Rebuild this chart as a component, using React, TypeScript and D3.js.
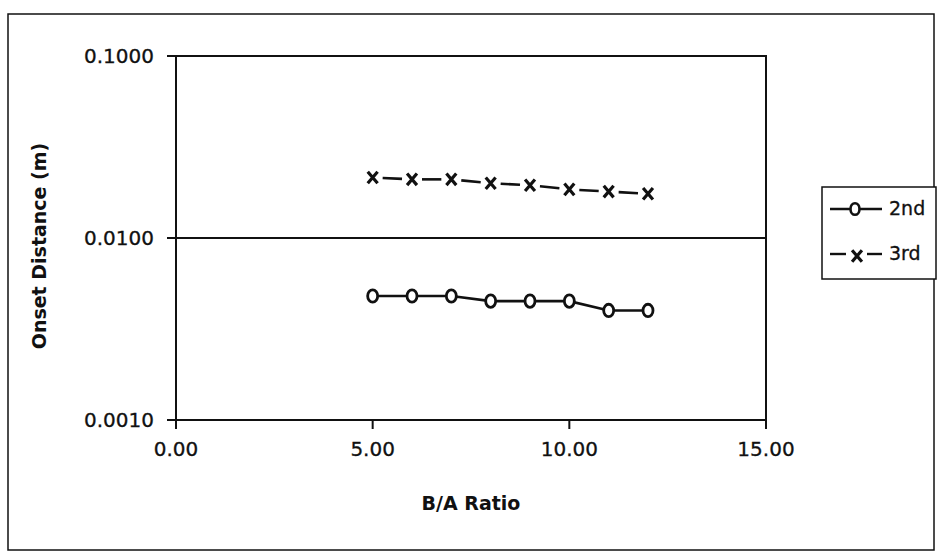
import * as React from "react";
import * as d3 from "d3";

// B/A ratio on x, onset distance (m) on a log y axis
const ratios = [5, 6, 7, 8, 9, 10, 11, 12];
const second = [0.0048, 0.0048, 0.0048, 0.0045, 0.0045, 0.0045, 0.004, 0.004];
const third = [0.0215, 0.021, 0.021, 0.02, 0.0195, 0.0185, 0.018, 0.0175];
const xTicks = [0, 5, 10, 15];
const yTicks = [0.001, 0.01, 0.1];
const seriesNames = ["2nd", "3rd"];

const W = 940;
const H = 554;
const FONT = "'DejaVu Sans', Arial, sans-serif";

export default function App() {
  const svgRef = React.useRef<SVGSVGElement>(null);

  React.useEffect(() => {
    const svg = d3.select(svgRef.current);
    svg.selectAll("*").remove();

    const left = 176, right = 766, top = 56, bottom = 420;
    const x = d3.scaleLinear().domain([0, 15]).range([left, right]);
    const y = d3.scaleLog().domain([0.001, 0.1]).range([bottom, top]);

    // outer frame
    svg.append("rect")
      .attr("x", 8).attr("y", 14).attr("width", 926).attr("height", 536)
      .attr("fill", "white").attr("stroke", "#111").attr("stroke-width", 1.5);

    // plot area border
    svg.append("rect")
      .attr("x", left).attr("y", top)
      .attr("width", right - left).attr("height", bottom - top)
      .attr("fill", "none").attr("stroke", "#111").attr("stroke-width", 2);

    // major gridlines (inner decades only)
    svg.append("g").selectAll("line")
      .data(yTicks.filter((t) => t > 0.001 && t < 0.1))
      .enter().append("line")
      .attr("x1", left).attr("x2", right)
      .attr("y1", (d) => y(d)).attr("y2", (d) => y(d))
      .attr("stroke", "#111").attr("stroke-width", 2);

    // y ticks + labels
    const yAxis = svg.append("g");
    yAxis.selectAll("line").data(yTicks).enter().append("line")
      .attr("x1", left - 9).attr("x2", left)
      .attr("y1", (d) => y(d)).attr("y2", (d) => y(d))
      .attr("stroke", "#111").attr("stroke-width", 2);
    yAxis.selectAll("text").data(yTicks).enter().append("text")
      .attr("x", left - 22).attr("y", (d) => y(d))
      .attr("dy", "0.36em")
      .attr("text-anchor", "end")
      .attr("font-family", FONT).attr("font-size", 20)
      .attr("fill", "#111").attr("stroke", "#111").attr("stroke-width", 0.3)
      .text((d) => d.toFixed(4));

    // x ticks + labels
    const xAxis = svg.append("g");
    xAxis.selectAll("line").data(xTicks).enter().append("line")
      .attr("x1", (d) => x(d)).attr("x2", (d) => x(d))
      .attr("y1", bottom).attr("y2", bottom + 9)
      .attr("stroke", "#111").attr("stroke-width", 2);
    xAxis.selectAll("text").data(xTicks).enter().append("text")
      .attr("x", (d) => x(d)).attr("y", bottom + 36)
      .attr("text-anchor", "middle")
      .attr("font-family", FONT).attr("font-size", 20)
      .attr("fill", "#111").attr("stroke", "#111").attr("stroke-width", 0.3)
      .text((d) => d.toFixed(2));

    // axis titles
    svg.append("text")
      .attr("x", (left + right) / 2).attr("y", 510)
      .attr("text-anchor", "middle")
      .attr("font-family", FONT).attr("font-size", 19).attr("font-weight", "bold")
      .attr("fill", "#111")
      .text("B/A Ratio");
    svg.append("text")
      .attr("transform", `translate(46,${(top + bottom) / 2 + 8}) rotate(-90)`)
      .attr("text-anchor", "middle")
      .attr("font-family", FONT).attr("font-size", 19).attr("font-weight", "bold")
      .attr("fill", "#111")
      .text("Onset Distance (m)");

    const pts2 = ratios.map((r, i) => [x(r), y(second[i])] as [number, number]);
    const pts3 = ratios.map((r, i) => [x(r), y(third[i])] as [number, number]);

    // 2nd: solid line under open circles
    svg.append("path")
      .attr("d", d3.line()(pts2)!)
      .attr("fill", "none").attr("stroke", "#111").attr("stroke-width", 2.6);
    svg.append("g").selectAll("ellipse").data(pts2).enter().append("ellipse")
      .attr("cx", (d) => d[0]).attr("cy", (d) => d[1])
      .attr("rx", 5).attr("ry", 6.2)
      .attr("fill", "white").attr("stroke", "#111").attr("stroke-width", 2.8);

    // 3rd: short segments between x markers
    const gap = 10;
    const segs = d3.pairs(pts3).map(([a, b]) => {
      const dx = b[0] - a[0], dy = b[1] - a[1];
      const len = Math.hypot(dx, dy);
      const ux = dx / len, uy = dy / len;
      return [[a[0] + ux * gap, a[1] + uy * gap], [b[0] - ux * gap, b[1] - uy * gap]] as [number, number][];
    });
    svg.append("g").selectAll("path").data(segs).enter().append("path")
      .attr("d", (d) => d3.line()(d)!)
      .attr("fill", "none").attr("stroke", "#111").attr("stroke-width", 2.6);
    const xMark = (cx: number, cy: number, s = 5.8) =>
      `M${cx - s * 0.85},${cy - s}L${cx + s * 0.85},${cy + s}M${cx - s * 0.85},${cy + s}L${cx + s * 0.85},${cy - s}`;
    svg.append("g").selectAll("path").data(pts3).enter().append("path")
      .attr("d", (d) => xMark(d[0], d[1]))
      .attr("fill", "none").attr("stroke", "#111").attr("stroke-width", 3.2);

    // legend
    const lg = svg.append("g").attr("transform", "translate(822,187)");
    lg.append("rect").attr("width", 114).attr("height", 92)
      .attr("fill", "white").attr("stroke", "#111").attr("stroke-width", 1.5);
    seriesNames.forEach((name, i) => {
      const cy = 22 + i * 45;
      const row = lg.append("g");
      if (i === 0) {
        row.append("line").attr("x1", 8).attr("x2", 60).attr("y1", cy).attr("y2", cy)
          .attr("stroke", "#111").attr("stroke-width", 2.4);
        row.append("ellipse").attr("cx", 33).attr("cy", cy).attr("rx", 4.5).attr("ry", 5.8)
          .attr("fill", "white").attr("stroke", "#111").attr("stroke-width", 2.6);
      } else {
        row.append("line").attr("x1", 8).attr("x2", 24).attr("y1", cy).attr("y2", cy)
          .attr("stroke", "#111").attr("stroke-width", 2.4);
        row.append("line").attr("x1", 45).attr("x2", 60).attr("y1", cy).attr("y2", cy)
          .attr("stroke", "#111").attr("stroke-width", 2.4);
        row.append("path").attr("d", xMark(35, cy + 2))
          .attr("fill", "none").attr("stroke", "#111").attr("stroke-width", 3.2);
      }
      row.append("text").attr("x", 67).attr("y", cy).attr("dy", "0.3em")
        .attr("font-family", FONT).attr("font-size", 19).attr("fill", "#111")
        .attr("stroke", "#111").attr("stroke-width", 0.3)
        .text(name);
    });
  }, []);

  return (
    <svg
      ref={svgRef}
      width={W}
      height={H}
      style={{ position: "absolute", left: 0, top: 0, background: "white" }}
    />
  );
}
